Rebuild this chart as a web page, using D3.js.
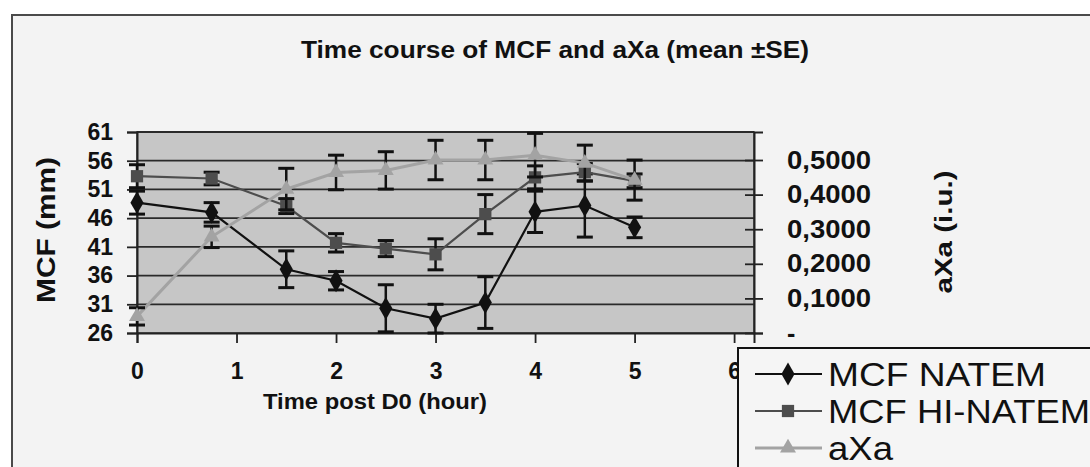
<!DOCTYPE html>
<html><head><meta charset="utf-8">
<script src="https://cdn.jsdelivr.net/npm/d3@7"></script>
<style>html,body{margin:0;padding:0;background:#fff;}svg{display:block;}</style>
</head><body>
<svg id="c" width="1090" height="467"></svg>
<script>
// ---- data ----
const times = [0, 0.75, 1.5, 2, 2.5, 3, 3.5, 4, 4.5, 5];
const natem = [48.7, 47.0, 37.1, 35.1, 30.3, 28.5, 31.3, 47.1, 48.2, 44.4];
const natemSE = [2.0, 1.7, 3.2, 1.6, 4.1, 2.5, 4.5, 3.6, 5.5, 1.8];
const hiNatem = [53.3, 52.9, 48.1, 41.7, 40.7, 39.7, 46.7, 53.1, 54.0, 52.5];
const hiNatemSE = [2.0, 1.1, 1.3, 1.6, 1.4, 2.7, 3.4, 2.0, 1.5, 1.2];
const axa = [0.048, 0.278, 0.416, 0.464, 0.470, 0.500, 0.500, 0.514, 0.491, 0.442];
const axaSE = [0.025, 0.031, 0.060, 0.050, 0.054, 0.057, 0.057, 0.063, 0.052, 0.058];
const xTicks = [0, 1, 2, 3, 4, 5, 6];
const leftTicks = [26, 31, 36, 41, 46, 51, 56, 61];
const rightTicks = [0, 0.1, 0.2, 0.3, 0.4, 0.5];
const rightTickLabels = ["-", "0,1000", "0,2000", "0,3000", "0,4000", "0,5000"];
const seriesNames = ["MCF NATEM", "MCF HI-NATEM", "aXa"];
const titleText = "Time course of MCF and aXa (mean \u00B1SE)";
const xTitle = "Time post D0 (hour)";
const yLeftTitle = "MCF (mm)";
const yRightTitle = "aXa (i.u.)";

// ---- layout ----
const svg = d3.select("#c");
const F = "'Liberation Sans', Arial, sans-serif";
const L = 137, R = 754, T = 132, B = 333;
const x = d3.scaleLinear().domain([0, 6.2]).range([L, R]);
const yL = d3.scaleLinear().domain([26, 61]).range([B, T]);
const yR = d3.scaleLinear().domain([0, 0.581]).range([B, T]);

// chart frame
svg.append("rect").attr("x", 12).attr("y", 15).attr("width", 1090).attr("height", 470)
  .attr("fill", "#f3f3f3").attr("stroke", "#4a4a4a").attr("stroke-width", 2);

// title
svg.append("text").attr("x", 555).attr("y", 58).attr("text-anchor", "middle")
  .attr("font-family", F).attr("font-weight", "bold").attr("font-size", 23)
  .attr("textLength", 508).attr("lengthAdjust", "spacingAndGlyphs")
  .attr("fill", "#111").text(titleText);

// plot area
svg.append("rect").attr("x", L).attr("y", T).attr("width", R - L).attr("height", B - T)
  .attr("fill", "#c6c6c6").attr("stroke", "#333").attr("stroke-width", 1.5);

// gridlines
svg.append("g").selectAll("line").data(leftTicks.filter(d => d > 26)).join("line")
  .attr("x1", L).attr("x2", R).attr("y1", d => yL(d)).attr("y2", d => yL(d))
  .attr("stroke", "#2a2a2a").attr("stroke-width", 1.8);

// axes
const gx = svg.append("g").attr("transform", `translate(0,${B})`)
  .call(d3.axisBottom(x).tickValues(xTicks).tickSize(10).tickPadding(24).tickFormat(d3.format("d")));
const gl = svg.append("g").attr("transform", `translate(${L},0)`)
  .call(d3.axisLeft(yL).tickValues(leftTicks).tickSize(10).tickPadding(14).tickFormat(d3.format("d")));
const gr = svg.append("g").attr("transform", `translate(${R},0)`)
  .call(d3.axisRight(yR).tickValues(rightTicks).tickSize(9).tickPadding(24)
    .tickFormat((d, i) => rightTickLabels[i]));
gr.selectAll(".tick line").attr("x1", -9);
[gx, gl, gr].forEach(g => {
  g.select(".domain").attr("stroke", "#222").attr("stroke-width", 2);
  g.selectAll(".tick line").attr("stroke", "#222").attr("stroke-width", 1.8);
  g.selectAll("text").attr("font-family", F).attr("font-weight", "bold")
    .attr("font-size", 23).attr("fill", "#111");
});
gx.selectAll("text").attr("dy", "0.35em").attr("y", 38);
gr.selectAll("text").attr("font-size", 25)
  .attr("textLength", (d, i) => i === 0 ? null : 84).attr("lengthAdjust", "spacingAndGlyphs")
  .attr("x", 33);

// axis titles
svg.append("text").attr("x", 375).attr("y", 409).attr("text-anchor", "middle")
  .attr("font-family", F).attr("font-weight", "bold").attr("font-size", 22)
  .attr("textLength", 224).attr("lengthAdjust", "spacingAndGlyphs").attr("fill", "#111").text(xTitle);
svg.append("text").attr("transform", "translate(55,230) rotate(-90)").attr("text-anchor", "middle")
  .attr("font-family", F).attr("font-weight", "bold").attr("font-size", 25)
  .attr("textLength", 146).attr("lengthAdjust", "spacingAndGlyphs").attr("fill", "#111").text(yLeftTitle);
svg.append("text").attr("transform", "translate(952,232) rotate(-90)").attr("text-anchor", "middle")
  .attr("font-family", F).attr("font-weight", "bold").attr("font-size", 24)
  .attr("textLength", 123).attr("lengthAdjust", "spacingAndGlyphs").attr("fill", "#111").text(yRightTitle);

// series
const series = [
  {name: seriesNames[0], v: natem, se: natemSE, y: yL, color: "#111", width: 2.2, marker: d3.symbolDiamond, msize: 150},
  {name: seriesNames[1], v: hiNatem, se: hiNatemSE, y: yL, color: "#4d4d4d", width: 2.2, marker: d3.symbolSquare, msize: 150},
  {name: seriesNames[2], v: axa, se: axaSE, y: yR, color: "#a3a3a3", width: 3, marker: d3.symbolTriangle, msize: 110}
];
series.forEach(s => {
  const g = svg.append("g");
  const pts = times.map((t, i) => ({t, v: s.v[i], e: s.se[i]}));
  g.append("path").datum(pts)
    .attr("d", d3.line().x(d => x(d.t)).y(d => s.y(d.v)))
    .attr("fill", "none").attr("stroke", s.color).attr("stroke-width", s.width);
  const eb = g.selectAll("g.eb").data(pts).join("g");
  eb.append("line").attr("x1", d => x(d.t)).attr("x2", d => x(d.t))
    .attr("y1", d => s.y(d.v - d.e)).attr("y2", d => s.y(d.v + d.e))
    .attr("stroke", "#111").attr("stroke-width", 2.5);
  [-1, 1].forEach(k => {
    eb.append("line").attr("x1", d => x(d.t) - 8).attr("x2", d => x(d.t) + 8)
      .attr("y1", d => s.y(d.v + k * d.e)).attr("y2", d => s.y(d.v + k * d.e))
      .attr("stroke", "#111").attr("stroke-width", 3);
  });
  g.selectAll("path.m").data(pts).join("path").attr("class", "m")
    .attr("transform", d => `translate(${x(d.t)},${s.y(d.v)})`)
    .attr("d", d3.symbol().type(s.marker).size(s.msize)).attr("fill", s.color);
});

// legend
const lg = svg.append("g");
lg.append("rect").attr("x", 738).attr("y", 348).attr("width", 400).attr("height", 200)
  .attr("fill", "#f5f5f5").attr("stroke", "#111").attr("stroke-width", 2);
series.forEach((s, i) => {
  const cy = 374 + i * 37;
  lg.append("line").attr("x1", 755).attr("x2", 822).attr("y1", cy).attr("y2", cy)
    .attr("stroke", s.color).attr("stroke-width", s.width);
  lg.append("path").attr("transform", `translate(788,${cy})`)
    .attr("d", d3.symbol().type(s.marker).size(s.msize)).attr("fill", s.color);
  lg.append("text").attr("x", 828).attr("y", cy + 12).attr("font-family", F)
    .attr("font-size", 34).attr("fill", "#111")
    .attr("textLength", [218, 262, 65][i]).attr("lengthAdjust", "spacingAndGlyphs")
    .text(s.name);
});
</script>
</body></html>
